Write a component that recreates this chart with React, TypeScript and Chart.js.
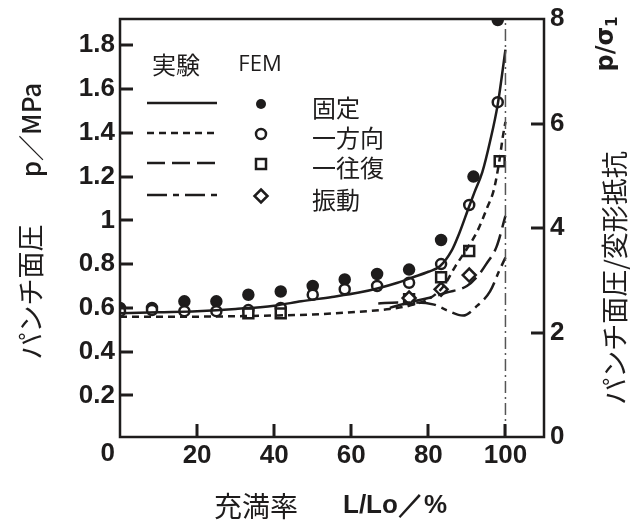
import React, { useEffect, useRef } from 'react';
import { Chart, registerables } from 'chart.js';

Chart.register(...registerables);

// ---- axis ticks ----
const xTicks = [0, 20, 40, 60, 80, 100];
const leftTicks = [0.2, 0.4, 0.6, 0.8, 1, 1.2, 1.4, 1.6, 1.8];
const rightTicks = [0, 2, 4, 6, 8];

// ---- experiment curves (実験) ----
const fixedX = [0, 10, 20, 30, 40, 47, 55, 62, 67, 72, 76, 80, 83, 86, 88, 90.5, 92, 94, 96, 98, 100];
const fixedY = [0.575, 0.58, 0.585, 0.595, 0.61, 0.63, 0.65, 0.67, 0.69, 0.715, 0.74, 0.765, 0.79, 0.86, 0.94, 1.06, 1.13, 1.22, 1.36, 1.53, 1.78];

const oneWayX = [0, 10, 20, 30, 40, 50, 60, 70, 75, 80, 84, 87, 90, 92.7, 95.3, 97, 98.4, 99.3, 100];
const oneWayY = [0.56, 0.56, 0.56, 0.562, 0.565, 0.57, 0.58, 0.595, 0.61, 0.64, 0.7, 0.79, 0.87, 0.95, 1.06, 1.14, 1.27, 1.38, 1.45];

const roundX = [70, 75, 80, 84.7, 90, 93, 95, 97.7, 100];
const roundY = [0.6, 0.625, 0.645, 0.67, 0.7, 0.75, 0.8, 0.88, 1.02];

const vibX = [67, 72, 77, 81.5, 84.7, 89, 92.7, 96, 98.4, 100];
const vibY = [0.62, 0.625, 0.625, 0.615, 0.59, 0.565, 0.61, 0.675, 0.77, 0.83];

// ---- FEM points ----
const femFixedX = [0, 8.3, 16.7, 25, 33.3, 41.7, 50, 58.3, 66.7, 75, 83.3, 91.7, 98];
const femFixedY = [0.6, 0.6, 0.63, 0.63, 0.66, 0.675, 0.7, 0.73, 0.755, 0.775, 0.91, 1.2, 1.915];

const femOneWayX = [0, 8.3, 16.7, 25, 33.3, 41.7, 50, 58.3, 66.7, 75, 83.3, 90.6, 98];
const femOneWayY = [0.585, 0.59, 0.585, 0.585, 0.59, 0.6, 0.66, 0.685, 0.7, 0.715, 0.8, 1.07, 1.54];

const femRoundX = [33.3, 41.7, 75, 83.3, 90.6, 98.5];
const femRoundY = [0.575, 0.575, 0.64, 0.74, 0.86, 1.27];

const femVibX = [75, 83.3, 90.6];
const femVibY = [0.645, 0.685, 0.75];

// reference line at L/Lo = 100 %
const refX = [100, 100];
const refY = [0.01, 1.92];

const legendNames = ['固定', '一方向', '一往復', '振動'];

const INK = '#1e1c1c';
const NUM_FONT = 'bold 26px "Liberation Sans", Arial, sans-serif';
const JP = '"Noto Sans CJK JP", "Noto Sans", sans-serif';

const pts = (xs: number[], ys: number[]) => xs.map((x, i) => ({ x, y: ys[i] }));

const dashes = [[], [7, 5], [18, 7], [20, 6, 6, 6]];

function drawMarker(ctx: CanvasRenderingContext2D, kind: string, x: number, y: number) {
  ctx.save();
  ctx.lineWidth = 2.5;
  ctx.strokeStyle = INK;
  ctx.setLineDash([]);
  ctx.beginPath();
  if (kind === 'filled') {
    ctx.fillStyle = INK;
    ctx.arc(x, y, 5, 0, Math.PI * 2);
    ctx.fill();
  } else if (kind === 'circle') {
    ctx.fillStyle = '#fff';
    ctx.arc(x, y, 5, 0, Math.PI * 2);
    ctx.fill();
    ctx.stroke();
  } else if (kind === 'square') {
    ctx.fillStyle = '#fff';
    ctx.rect(x - 5, y - 5, 10, 10);
    ctx.fill();
    ctx.stroke();
  } else {
    ctx.fillStyle = '#fff';
    ctx.moveTo(x, y - 6.5);
    ctx.lineTo(x + 6.5, y);
    ctx.lineTo(x, y + 6.5);
    ctx.lineTo(x - 6.5, y);
    ctx.closePath();
    ctx.fill();
    ctx.stroke();
  }
  ctx.restore();
}

const markerKinds = ['filled', 'circle', 'square', 'diamond'];

function seg(ctx: CanvasRenderingContext2D, x1: number, y1: number, x2: number, y2: number) {
  ctx.beginPath();
  ctx.moveTo(x1, y1);
  ctx.lineTo(x2, y2);
  ctx.stroke();
}

const decorPlugin = {
  id: 'decor',
  afterDraw(chart: any) {
    const { ctx, chartArea: a, scales } = chart;
    const xs = scales.x, yl = scales.y, yr = scales.y2;
    ctx.save();
    ctx.setLineDash([]);
    ctx.strokeStyle = INK;
    ctx.fillStyle = INK;
    ctx.lineWidth = 2.5;
    ctx.lineCap = 'butt';
    // frame
    ctx.strokeRect(a.left, a.top, a.right - a.left, a.bottom - a.top);
    // inward tick marks
    ctx.lineWidth = 3;
    const TL = 13;
    for (const v of xTicks) {
      if (v === 0) continue;
      const px = Math.round(xs.getPixelForValue(v));
      seg(ctx, px, a.bottom, px, a.bottom - TL);
    }
    for (const v of leftTicks) {
      const py = Math.round(yl.getPixelForValue(v));
      seg(ctx, a.left, py, a.left + TL, py);
    }
    for (const v of rightTicks) {
      if (v === rightTicks[0] || v === rightTicks[rightTicks.length - 1]) continue;
      const py = Math.round(yr.getPixelForValue(v));
      seg(ctx, a.right, py, a.right - TL, py);
    }

    // origin label
    ctx.font = NUM_FONT;
    ctx.textAlign = 'right';
    ctx.textBaseline = 'middle';
    ctx.fillText(String(xTicks[0]), a.left - 5, 454);

    // axis titles
    const rot = (text: string, cx: number, cy: number, font: string) => {
      ctx.save();
      ctx.translate(cx, cy);
      ctx.rotate(-Math.PI / 2);
      ctx.font = font;
      ctx.textAlign = 'center';
      ctx.textBaseline = 'middle';
      ctx.fillText(text, 0, 0);
      ctx.restore();
    };
    rot('p／MPa', 31, 130, `500 26px ${JP}`);
    rot('パンチ面圧', 31, 292, `27px ${JP}`);
    rot('パンチ面圧/変形抵抗', 615, 278, `27px ${JP}`);
    // p/σ1 with subscript
    ctx.save();
    ctx.translate(607, 44);
    ctx.rotate(-Math.PI / 2);
    ctx.textBaseline = 'middle';
    ctx.textAlign = 'left';
    ctx.font = `bold 24px "DejaVu Sans", sans-serif`;
    const main = 'p/σ';
    const mw = ctx.measureText(main).width;
    ctx.font = `bold 15px "DejaVu Sans", sans-serif`;
    const sw = ctx.measureText('1').width;
    const start = -(mw + sw) / 2;
    ctx.font = `bold 24px "DejaVu Sans", sans-serif`;
    ctx.fillText(main, start, 0);
    ctx.font = `bold 15px "DejaVu Sans", sans-serif`;
    ctx.fillText('1', start + mw, 6);
    ctx.restore();

    ctx.textAlign = 'center';
    ctx.textBaseline = 'middle';
    ctx.font = `28px ${JP}`;
    ctx.fillText('充満率', 256, 506);
    ctx.font = `bold 26px "Liberation Sans", Arial, sans-serif`;
    ctx.fillText('L/Lo／%', 395, 506);

    // legend
    ctx.font = `24px ${JP}`;
    ctx.fillText('実験', 176, 65);
    ctx.font = `22px "Open Sans", "Noto Sans", sans-serif`;
    ctx.fillText('FEM', 260, 65);
    const rows = [103, 133, 163, 195];
    legendNames.forEach((name, i) => {
      const y = rows[i];
      ctx.save();
      ctx.strokeStyle = INK;
      ctx.lineWidth = 2.5;
      ctx.setLineDash(dashes[i]);
      seg(ctx, 147, y, 217, y);
      ctx.restore();
      drawMarker(ctx, markerKinds[i], 261, y + 1);
      ctx.fillStyle = INK;
      ctx.font = `24px ${JP}`;
      ctx.textAlign = 'left';
      ctx.textBaseline = 'middle';
      ctx.fillText(name, 312, y + 5);
    });
    ctx.restore();
  },
};

export default function App() {
  const ref = useRef<HTMLCanvasElement>(null);
  useEffect(() => {
    const lineDs = (xs: number[], ys: number[], dash: number[]) => ({
      type: 'line' as const,
      data: pts(xs, ys),
      borderColor: INK,
      borderWidth: 2.5,
      borderDash: dash,
      pointRadius: 0,
      fill: false,
      cubicInterpolationMode: 'monotone' as const,
      yAxisID: 'y',
    });
    const ptDs = (xs: number[], ys: number[], style: string, filled: boolean, r: number) => ({
      type: 'line' as const,
      data: pts(xs, ys),
      showLine: false,
      pointStyle: style,
      pointRadius: r,
      pointBorderWidth: 2.5,
      pointBorderColor: INK,
      pointBackgroundColor: filled ? INK : '#fff',
      yAxisID: 'y',
    });
    const chart = new Chart(ref.current as HTMLCanvasElement, {
      type: 'line',
      data: {
        datasets: [
          {
            type: 'line',
            data: pts(refX, refY),
            borderColor: '#555',
            borderWidth: 1.5,
            borderDash: [12, 4, 2, 4],
            pointRadius: 0,
            yAxisID: 'y',
          },
          lineDs(fixedX, fixedY, dashes[0]),
          lineDs(oneWayX, oneWayY, dashes[1]),
          lineDs(roundX, roundY, dashes[2]),
          lineDs(vibX, vibY, dashes[3]),
          ptDs(femVibX, femVibY, 'rectRot', false, 6.5),
          ptDs(femRoundX, femRoundY, 'rect', false, 7),
          ptDs(femOneWayX, femOneWayY, 'circle', false, 5),
          ptDs(femFixedX, femFixedY, 'circle', true, 5),
        ] as any,
      },
      options: {
        responsive: false,
        animation: false,
        events: [],
        devicePixelRatio: 1,
        layout: { padding: { top: 15, left: 0, right: 0, bottom: 0 } },
        plugins: { legend: { display: false }, tooltip: { enabled: false } },
        scales: {
          x: {
            type: 'linear',
            position: 'bottom',
            min: 0,
            max: 110,
            afterBuildTicks: (s: any) => { s.ticks = xTicks.map((v) => ({ value: v })); },
            afterFit: (s: any) => { s.height = 85; },
            grid: { display: false, drawTicks: false },
            border: { display: false },
            ticks: {
              color: INK,
              font: { family: '"Liberation Sans", Arial, sans-serif', size: 26, weight: 'bold', lineHeight: 1 },
              padding: 6,
              maxRotation: 0,
              autoSkip: false,
              callback: (v: any) => (v === 0 ? '' : String(v)),
            },
          },
          y: {
            type: 'linear',
            position: 'left',
            min: 0.01,
            max: 1.92,
            afterBuildTicks: (s: any) => { s.ticks = leftTicks.map((v) => ({ value: v })); },
            afterFit: (s: any) => { s.width = 120; },
            grid: { display: false, drawTicks: false },
            border: { display: false },
            ticks: {
              color: INK,
              font: { family: '"Liberation Sans", Arial, sans-serif', size: 26, weight: 'bold', lineHeight: 1 },
              padding: 5,
              autoSkip: false,
              callback: (v: any) => String(v),
            },
          },
          y2: {
            type: 'linear',
            position: 'right',
            min: 0,
            max: 8,
            afterBuildTicks: (s: any) => { s.ticks = rightTicks.map((v) => ({ value: v })); },
            afterFit: (s: any) => { s.width = 96; },
            grid: { display: false, drawTicks: false },
            border: { display: false },
            ticks: {
              color: INK,
              font: { family: '"Liberation Sans", Arial, sans-serif', size: 26, weight: 'bold', lineHeight: 1 },
              padding: 6,
              autoSkip: false,
              callback: (v: any) => String(v),
            },
          },
        },
      } as any,
      plugins: [decorPlugin],
    });
    return () => chart.destroy();
  }, []);
  return (
    <div style={{ position: 'absolute', left: 0, top: 0, width: 640, height: 522, background: '#fff' }}>
      <canvas ref={ref} width={640} height={522} style={{ width: 640, height: 522, display: 'block' }} />
    </div>
  );
}
